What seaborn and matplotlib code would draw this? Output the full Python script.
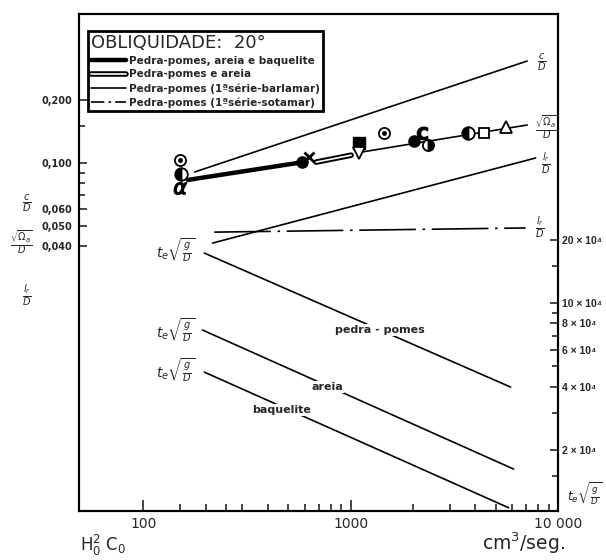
import pandas as pd
import seaborn as sns
import matplotlib.pyplot as plt
import matplotlib.patheffects as pe
from matplotlib.ticker import FixedLocator, NullFormatter
from matplotlib.lines import Line2D

# flow H0^2 C0 (cm3/seg) on a log axis
x_range = (49, 10000)

# left scale: c/D, sqrt(Omega_a)/D, l_r/D
c_q = [177, 7100]
c_val = [0.0906, 0.3076]
lr_q = [216, 7800]
lr_val = [0.0414, 0.1057]
lr_sot_q = [220, 6980]
lr_sot_val = [0.0467, 0.0489]
thick_q = [164, 590]
thick_val = [0.083, 0.101]
double_q = [682, 1006]
double_val = [0.101, 0.109]
thin_q = [1140, 7100]
thin_val = [0.113, 0.152]

# right scale: t_e sqrt(g/D)
pp_q = [197, 5910]
pp_val = [1.73e5, 3.98e4]
ar_q = [193, 6110]
ar_val = [7.44e4, 1.62e4]
bq_q = [197, 5780]
bq_val = [4.69e4, 1.06e4]

# measured points
pt_q = [150, 152, 150, 585, 630, 1100, 1100, 1450, 2020, 2200, 2350, 3700, 4400, 5600]
pt_val = [0.103, 0.089, 0.076, 0.101, 0.107, 0.125, 0.112, 0.139, 0.128, 0.139, 0.122, 0.139, 0.139, 0.149]
pt_sym = ["dot", "half_l", "alpha", "full", "x", "square_f", "tri_down", "dot",
          "full", "moon", "half_r", "half_l", "square", "tri_up"]

left_ticks = [0.04, 0.05, 0.06, 0.1, 0.2]
left_labels = ["0,040", "0,050", "0,060", "0,100", "0,200"]
right_ticks = [2e4, 4e4, 6e4, 8e4, 1e5, 2e5]
right_labels = ["2 × 10⁴", "4 × 10⁴", "6 × 10⁴", "8 × 10⁴", "10 × 10⁴", "20 × 10⁴"]
x_ticks = [100, 1000, 10000]
x_labels = ["100", "1000", "10 000"]

sns.set_style("ticks")
plt.rcParams["font.family"] = ["DejaVu Sans"]

W, H = 606, 560


def px(x, y):
    return x / W, 1 - y / H


fig = plt.figure(figsize=(W / 100, H / 100), dpi=100)
ax = fig.add_axes([79 / W, 1 - 511 / H, (558 - 79) / W, (511 - 14) / H])
ax.set_xscale("log")
ax.set_yscale("log")
ax.set_xlim(*x_range)
ax.set_ylim(0.002163, 0.5164)
ax2 = ax.twinx()
ax2.set_yscale("log")
ax2.set_ylim(1.023e4, 2.378e6)

for a in (ax, ax2):
    for s in a.spines.values():
        s.set_linewidth(1.5)
        s.set_color("black")

thin = dict(color="black", linewidth=1.2)

sns.lineplot(x=c_q, y=c_val, ax=ax, **thin)
sns.lineplot(x=lr_q, y=lr_val, ax=ax, **thin)
sns.lineplot(x=lr_sot_q, y=lr_sot_val, ax=ax, color="black", linewidth=1.2,
             linestyle=(0, (34, 4, 1.5, 4)))
sns.lineplot(x=thick_q, y=thick_val, ax=ax, color="black", linewidth=3.2)
h_thick = ax.lines[-1]
sns.lineplot(x=double_q, y=double_val, ax=ax, color="white", linewidth=1.2,
             path_effects=[pe.Stroke(linewidth=4, foreground="black"), pe.Normal()])
h_double = ax.lines[-1]
sns.lineplot(x=thin_q, y=thin_val, ax=ax, **thin)
h_thin = ax.lines[-1]

for q, v in [(pp_q, pp_val), (ar_q, ar_val), (bq_q, bq_val)]:
    sns.lineplot(x=q, y=v, ax=ax2, **thin)

styles = {
    "dot": dict(marker="o", mfc="white", mec="black", ms=8, mew=1.3),
    "half_l": dict(marker="o", fillstyle="left", mfc="black", markerfacecoloralt="white", mec="black", ms=9, mew=1.3),
    "half_r": dict(marker="o", fillstyle="right", mfc="black", markerfacecoloralt="white", mec="black", ms=8, mew=1.3),
    "alpha": dict(marker=r"$\alpha$", color="black", ms=9),
    "full": dict(marker="o", color="black", ms=8),
    "x": dict(marker="x", color="black", ms=7, mew=2),
    "square_f": dict(marker="s", color="black", ms=8),
    "square": dict(marker="s", mfc="white", mec="black", ms=7, mew=1.3),
    "tri_down": dict(marker="v", mfc="white", mec="black", ms=8, mew=1.3),
    "tri_up": dict(marker="^", mfc="white", mec="black", ms=8, mew=1.3),
    "moon": dict(marker=r"$\mathbf{C}$", color="black", ms=9),
}
for q, v, s in zip(pt_q, pt_val, pt_sym):
    ax.plot([q], [v], linestyle="none", zorder=5, **styles[s])
    if s == "dot":
        ax.plot([q], [v], linestyle="none", marker="o", color="black", ms=2.5, zorder=6)

# axes ticks
ax.set_xticks(x_ticks)
ax.set_xticklabels(x_labels, fontsize=10)
minor_x = [150, 200, 250, 300, 400, 500, 600, 700, 800, 900,
           2000, 3000, 4000, 5000, 6000, 7000, 8000, 9000]
ax.xaxis.set_minor_locator(FixedLocator(minor_x))
ax.xaxis.set_minor_formatter(NullFormatter())
ax.set_yticks(left_ticks)
ax.set_yticklabels(left_labels, fontsize=7, fontweight="bold")
ax.yaxis.set_minor_locator(FixedLocator([0.07, 0.08, 0.09, 0.15]))
ax.yaxis.set_minor_formatter(NullFormatter())
ax.tick_params(axis="x", which="major", direction="in", length=8, width=1.2, pad=4)
ax.tick_params(axis="x", which="minor", direction="in", length=5, width=1.2)
ax.tick_params(axis="y", which="major", direction="in", length=6, width=1.2, pad=5)
ax.tick_params(axis="y", which="minor", direction="in", length=4, width=1.2)
ax.tick_params(top=False, right=False, which="both")

ax2.set_yticks(right_ticks)
ax2.set_yticklabels(right_labels, fontsize=7.5, fontweight="bold", family="Liberation Sans")
ax2.yaxis.set_minor_locator(FixedLocator([1.5e4, 3e4, 5e4, 7e4, 9e4, 1.5e5]))
ax2.yaxis.set_minor_formatter(NullFormatter())
ax2.tick_params(axis="y", which="major", direction="in", length=6, width=1.2, pad=3)
ax2.tick_params(axis="y", which="minor", direction="in", length=4, width=1.2)

# legend
h_dashdot = Line2D([], [], color="black", linewidth=1.2, linestyle=(0, (8, 2.5, 1.5, 2.5)))
leg = ax2.legend([h_thick, h_double, h_thin, h_dashdot],
                 ["Pedra-pomes, areia e baquelite", "Pedra-pomes e areia",
                  "Pedra-pomes (1ªsérie-barlamar)", "Pedra-pomes (1ªsérie-sotamar)"],
                 title="OBLIQUIDADE:  20°", loc="upper left",
                 bbox_to_anchor=px(88, 31), bbox_transform=fig.transFigure,
                 borderaxespad=0, fancybox=False, framealpha=1, edgecolor="black",
                 prop=dict(weight="bold", size=7.5),
                 title_fontsize=13, handlelength=3.3, handletextpad=0.3,
                 labelspacing=0.35, borderpad=0.3)
leg.get_frame().set_linewidth(2)
leg._legend_box.align = "left"

# line labels
te = r"$t_e\sqrt{\frac{g}{D}}$"
fs = 10
fig.text(*px(542, 62), r"$\frac{c}{D}$", fontsize=fs, ha="center", va="center")
fig.text(*px(546, 127), r"$\frac{\sqrt{\Omega_a}}{D}$", fontsize=fs, ha="center", va="center")
fig.text(*px(546, 163), r"$\frac{l_r}{D}$", fontsize=fs, ha="center", va="center")
fig.text(*px(540, 227), r"$\frac{l_r}{D}$", fontsize=fs, ha="center", va="center")
for yy in (250, 330, 370):
    fig.text(*px(176, yy), te, fontsize=fs, ha="center", va="center")
fig.text(*px(585, 494), te, fontsize=9, ha="center", va="center")

box = dict(facecolor="white", edgecolor="none", pad=1)
for x0, y0, t in [(380, 330, "pedra - pomes"), (327, 387, "areia"), (282, 410, "baquelite")]:
    fig.text(*px(x0, y0), t, fontsize=8, fontweight="bold",
             ha="center", va="center", bbox=box, zorder=10)

# left axis caption
fig.text(*px(27, 203), r"$\frac{c}{D}$", fontsize=fs, ha="center", va="center")
fig.text(*px(21, 242), r"$\frac{\sqrt{\Omega_a}}{D}$", fontsize=fs, ha="center", va="center")
fig.text(*px(27, 295), r"$\frac{l_r}{D}$", fontsize=fs, ha="center", va="center")

# x captions
fig.text(*px(80, 545), r"H$_0^2$ C$_0$", fontsize=12, ha="left", va="center")
fig.text(*px(482, 543), r"cm$^3$/seg.", fontsize=13.5, ha="left", va="center")

fig.savefig("out.png", dpi=100)
